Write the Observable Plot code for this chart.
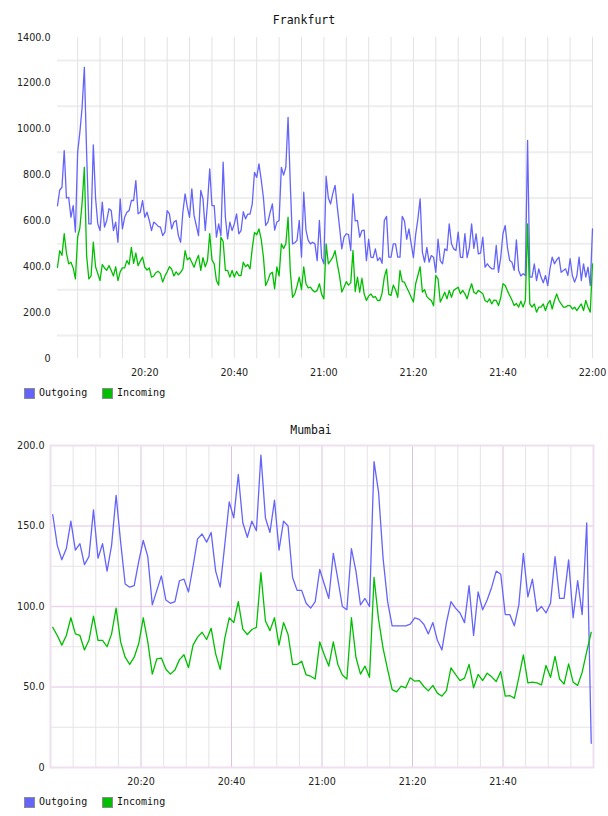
<!DOCTYPE html>
<html>
<head>
<meta charset="utf-8">
<script src="https://cdn.jsdelivr.net/npm/d3@7"></script>
<script src="https://cdn.jsdelivr.net/npm/@observablehq/plot@0.6"></script>
<style>
  body { margin: 0; background: #fff; }
  #page { position: relative; width: 608px; height: 816px; overflow: hidden; font-family: "DejaVu Sans Mono", monospace; }
  .title { position: absolute; font-size: 11.5px; line-height: 14px; color: #111; transform: translateX(-50%); white-space: nowrap; }
  .chart { position: absolute; left: 0; }
  .legend-item { position: absolute; display: flex; align-items: center; font-size: 10px; line-height: 12px; color: #111; white-space: nowrap; }
  .swatch { width: 9px; height: 9px; border: 1px solid #8c8c8c; margin-right: 4px; }
</style>
</head>
<body>
<div id="page"></div>
<script>
// Traffic per site, one value every 30 s (Frankfurt) and every minute (Mumbai)
const frankfurtStart = "20:00:30";
const frankfurtStepSeconds = 30;
const frankfurtOutgoing = [
  667, 735, 747, 907, 700, 703, 616, 667, 551, 900,
  987, 1096, 1270, 900, 587, 587, 932, 700, 587, 558,
  682, 573, 602, 653, 645, 558, 595, 507, 696, 565,
  616, 638, 645, 689, 689, 776, 631, 638, 689, 616,
  638, 602, 558, 595, 587, 576, 573, 536, 551, 645,
  631, 565, 595, 602, 536, 507, 638, 718, 660, 616,
  740, 624, 580, 536, 733, 696, 558, 674, 827, 667,
  667, 529, 587, 536, 856, 616, 522, 595, 558, 587,
  631, 544,
  558, 640, 609, 630, 630, 674, 812, 790,
  849, 780, 700, 580, 595, 638, 674, 560, 595, 602,
  834, 800, 834, 1052, 760, 500, 505, 515, 602, 442,
  725, 560, 515, 500, 507, 500, 427, 602, 440, 413,
  795, 700, 674, 720, 755, 660, 573, 478, 529, 544,
  540, 471, 718, 600, 602, 529, 558, 560, 427, 520,
  442, 440, 478, 427, 440, 415, 602, 620, 442, 442,
  500, 500, 442, 442, 620, 600, 520, 565, 500, 440,
  540, 609, 696, 464, 420, 485, 420,
  449, 442, 376,
  520, 427, 413, 478, 471, 587, 500, 478, 471, 551,
  442, 440, 544, 440, 485, 587, 480, 544, 456, 460,
  529, 398, 413, 400, 391, 391, 493, 376, 440, 544,
  580, 485, 427, 420, 384, 517, 384, 360, 370, 362,
  951, 355, 355, 413, 340, 391, 355, 330, 362, 318,
  391, 442, 413, 430, 442, 376, 384, 391, 362, 435,
  362, 333, 360, 442, 340, 413, 355, 398, 318, 565
];
const frankfurtIncoming = [
  398, 470, 450, 544, 460, 413, 420, 395, 347, 530,
  570, 680, 834, 450, 347, 360, 507, 400, 370, 340,
  410, 395, 385, 405, 384, 360, 400, 340, 378, 395,
  395, 427, 410, 485, 415, 460, 405, 425, 442, 398,
  386, 395, 355, 360, 375, 380, 370, 333, 360, 378,
  400, 390, 360, 378, 365, 376, 391, 470, 430, 440,
  420, 398, 427, 450, 384, 440, 400, 427, 544, 430,
  413, 340, 320, 529, 510, 384, 384, 355, 384, 355,
  380, 362,
  362, 420, 400, 410, 391, 480, 550, 540,
  565, 520, 442, 318, 340, 369, 376, 304, 400, 360,
  500, 480, 500, 616, 380, 267, 282, 315, 355, 300,
  400, 326, 308, 311, 297, 290, 297, 326, 280, 260,
  500, 413, 427, 442, 470, 413, 360, 290, 311, 335,
  320, 330, 471, 292, 355, 289, 350, 282, 253, 272,
  282, 267, 270, 253, 253, 285, 355, 390, 280, 275,
  320, 300, 267, 384, 335, 333, 310, 290, 267, 246,
  326, 362, 400, 290, 300, 270, 260,
  253, 230, 362,
  347, 246, 267, 289, 260, 297, 267, 297, 304, 311,
  282, 297, 282, 260, 297, 326, 289, 282, 297, 290,
  282, 253, 246, 260, 238, 255, 253, 231, 265, 326,
  318, 295, 275, 255, 231, 240, 224, 250, 224, 253,
  587, 238, 224, 238, 202, 224, 224, 238, 209, 238,
  253, 216, 253, 282, 253, 238, 224, 224, 231, 231,
  216, 224, 209, 224, 238, 209, 253, 224, 202, 413
];

const mumbaiStart = "20:00:30";
const mumbaiStepSeconds = 60;
const mumbaiOutgoing = [
  157, 138, 129, 136, 153, 135, 139, 126, 131, 160,
  130, 139, 122, 138, 169, 140, 114, 112, 113, 128,
  141, 131, 101, 110, 119, 104, 102, 103, 116, 117,
  109, 125, 142, 145, 140, 146, 122, 112, 138, 165,
  155, 182, 152, 143, 153, 147, 194, 155, 146, 166,
  135, 153, 150, 118, 110, 110, 102, 99, 103, 123,
  114, 105, 133, 117, 100, 98, 136, 122, 101, 105,
  100, 190, 171, 130, 103, 88, 88, 88, 88, 89,
  93, 92, 89, 83, 90, 79, 73, 90, 103, 99,
  96, 90, 113, 82, 109, 98, 104, 112, 122, 120,
  95, 95, 88, 101, 133, 106, 117, 97, 100, 96,
  102, 131, 105, 105, 129, 93, 116, 95, 152, 15
];
const mumbaiIncoming = [
  87, 82, 76, 82, 93, 83, 82, 73, 79, 94,
  79, 79, 75, 83, 99, 78, 68.5, 64, 68.5, 77,
  93, 78, 58, 67.5, 68, 61, 58, 60.5, 67, 70,
  62, 76, 81, 84, 79.5, 86.5, 70.6, 61, 80, 93,
  90, 103, 86, 82.6, 85.7, 87, 121, 91, 85, 93,
  76, 90, 82.6, 64, 64, 66, 57.5, 56.7, 55, 78,
  70, 63, 78, 64, 57.5, 55, 93, 68.5, 58, 63,
  56, 118, 92, 74, 61, 48.4, 47, 50.5, 49.5, 55.7,
  53.6, 54, 50.3, 47.6, 51, 46.2, 44.3, 47.8, 61.9, 57.8,
  54, 55.5, 64, 49.5, 57.8, 54, 58.6, 56.3, 53.4, 59.6,
  44.3, 44.7, 43, 56, 70, 52.6, 53, 52.6, 51.3, 63.4,
  56, 69, 55, 51.8, 64.4, 53, 51, 59.2, 72, 84
];

// Axis ticks and grid values
const seriesNames = ["Outgoing", "Incoming"];
const seriesColors = ["#6464fb", "#00bf00"];
const frankfurtYTicks = [0, 200, 400, 600, 800, 1000, 1200, 1400];
const frankfurtGridY = [100, 300, 500, 700, 900, 1100, 1300];
const frankfurtXTicks = ["20:20", "20:40", "21:00", "21:20", "21:40", "22:00"];
const mumbaiYTicks = [0, 50, 100, 150, 200];
const mumbaiMinorGridY = [25, 75, 125, 175];
const mumbaiMajorGridY = [50, 100, 150];
const mumbaiXTicks = ["20:20", "20:40", "21:00", "21:20", "21:40"];

// Helpers
const clock = (s) => {
  const [h, m, sec] = s.split(":").map(Number);
  return new Date(Date.UTC(2020, 0, 1, h, m, sec || 0));
};
const toRows = (values, name, start, stepSeconds) => {
  const t0 = clock(start).getTime();
  return values.map((v, i) => ({ time: new Date(t0 + i * stepSeconds * 1000), value: v, series: name }));
};
const fmtY = (v) => (v === 0 ? "0" : v.toFixed(1));
const fmtX = d3.utcFormat("%H:%M");
const everyFive = (from, to) => d3.utcMinute.every(5).range(clock(from), new Date(clock(to).getTime() + 1));

const page = document.getElementById("page");
const addTitle = (text, cx, top) => {
  const d = document.createElement("div");
  d.className = "title";
  d.textContent = text;
  d.style.left = cx + "px";
  d.style.top = top + "px";
  page.appendChild(d);
};
const addLegend = (top) => {
  const lefts = [24, 102];
  seriesNames.forEach((name, i) => {
    const item = document.createElement("div");
    item.className = "legend-item";
    item.style.left = lefts[i] + "px";
    item.style.top = top + "px";
    const sw = document.createElement("div");
    sw.className = "swatch";
    sw.style.background = seriesColors[i];
    item.appendChild(sw);
    item.appendChild(document.createTextNode(name));
    page.appendChild(item);
  });
};
const place = (svg, top) => {
  const wrap = document.createElement("div");
  wrap.className = "chart";
  wrap.style.top = top + "px";
  wrap.appendChild(svg);
  page.appendChild(wrap);
};
const axisStyle = { fontFamily: "DejaVu Sans, sans-serif", fontSize: "9.6px", color: "#222", background: "transparent", overflow: "visible" };

// Frankfurt
addTitle("Frankfurt", 304, 13);
const frankfurtRows = [
  ...toRows(frankfurtOutgoing, "Outgoing", frankfurtStart, frankfurtStepSeconds),
  ...toRows(frankfurtIncoming, "Incoming", frankfurtStart, frankfurtStepSeconds)
];
place(Plot.plot({
  width: 608, height: 361,
  marginTop: 10, marginBottom: 30, marginLeft: 57, marginRight: 16,
  style: axisStyle,
  x: { type: "utc", domain: [clock("20:00:30"), clock("22:00:00")], label: null },
  y: { domain: [0, 1400], label: null },
  color: { domain: seriesNames, range: seriesColors },
  marks: [
    Plot.ruleY(frankfurtGridY, { stroke: "#eeeeee", strokeWidth: 2 }),
    Plot.ruleX(everyFive("20:05", "22:00"), { stroke: "#e2e2e2", strokeWidth: 1 }),
    Plot.axisY(frankfurtYTicks, { tickSize: 0, tickPadding: 7, tickFormat: fmtY, label: null }),
    Plot.axisX(frankfurtXTicks.map(clock), { tickSize: 0, tickPadding: 11, tickFormat: fmtX, label: null }),
    Plot.line(frankfurtRows, { x: "time", y: "value", z: "series", stroke: "series", strokeWidth: 1.3 })
  ]
}), 27);
addLegend(387);

// Mumbai
addTitle("Mumbai", 311, 423);
const mumbaiRows = [
  ...toRows(mumbaiOutgoing, "Outgoing", mumbaiStart, mumbaiStepSeconds),
  ...toRows(mumbaiIncoming, "Incoming", mumbaiStart, mumbaiStepSeconds)
];
const mumbaiMajorX = mumbaiXTicks.map(clock);
const mumbaiMinorX = everyFive("20:05", "21:55").filter((d) => d.getUTCMinutes() % 20 !== 0);
place(Plot.plot({
  width: 608, height: 362,
  marginTop: 10, marginBottom: 30, marginLeft: 50, marginRight: 15,
  style: axisStyle,
  x: { type: "utc", domain: [clock("20:00:00"), clock("22:00:00")], label: null },
  y: { domain: [0, 200], label: null },
  color: { domain: seriesNames, range: seriesColors },
  marks: [
    Plot.ruleY(mumbaiMinorGridY, { stroke: "#e6e3e6", strokeWidth: 1 }),
    Plot.ruleY(mumbaiMajorGridY, { stroke: "#ecd6ec", strokeWidth: 1.5 }),
    Plot.ruleX(mumbaiMinorX, { stroke: "#e6e3e6", strokeWidth: 1 }),
    Plot.ruleX(mumbaiMajorX, { stroke: "#ddc3dd", strokeWidth: 1 }),
    Plot.frame({ stroke: "#efdfef", strokeWidth: 2 }),
    Plot.axisY(mumbaiYTicks, { tickSize: 0, tickPadding: 6, tickFormat: fmtY, label: null }),
    Plot.axisX(mumbaiMajorX, { tickSize: 0, tickPadding: 11, tickFormat: fmtX, label: null }),
    Plot.line(mumbaiRows, { x: "time", y: "value", z: "series", stroke: "series", strokeWidth: 1.3 })
  ]
}), 435);
addLegend(796);
</script>
</body>
</html>
